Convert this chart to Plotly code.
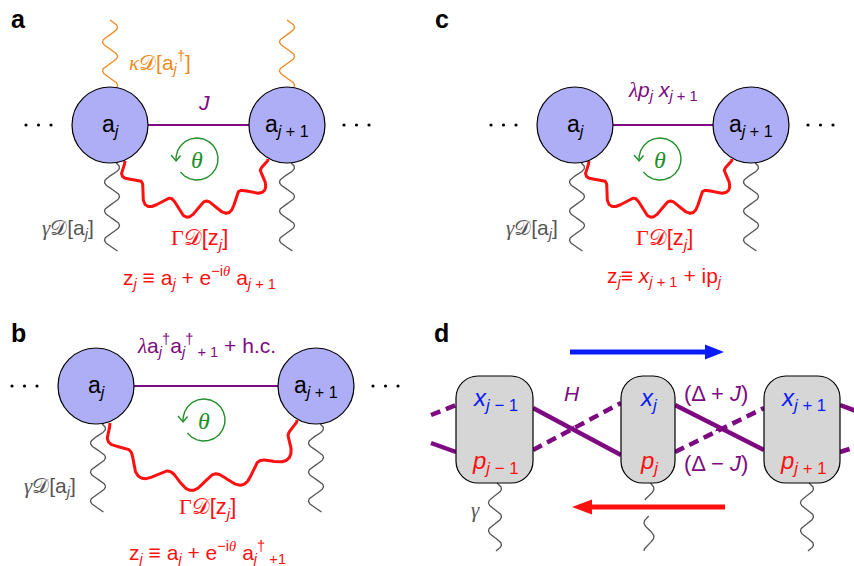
import numpy as np
import plotly.graph_objects as go

W, H = 854, 566

# ---- colours -------------------------------------------------------------
PURPLE = "#7d0a80"
ORANGE = "#ee8a22"
GREEN = "#22902a"
RED = "#ff1010"
BLUE = "#0a1cff"
GRAY = "#555555"
NODE_FILL = "#aeaef7"
BOX_FILL = "#d6d6d6"

SANS = "Liberation Sans, Arial, sans-serif"
SERIF_I = 'font-family:Liberation Serif;font-style:italic'
SERIF = 'font-family:Liberation Serif'
CAL_D = "𝒟"


def sv(t):
    return f'<span style="{SERIF_I}">{t}</span>'


def sr(t):
    return f'<span style="{SERIF}">{t}</span>'


# ---- text content ----------------------------------------------------------
panel_letters = ["a", "b", "c", "d"]
node_left = "a<sub><i>j</i></sub>"
node_right = "a<sub><i>j</i> + 1</sub>"
coupling_a = "<i>J</i>"
coupling_b = (sv("λ") + "a<sub><i>j</i></sub><sup>†</sup>a<sub><i>j</i></sub><sup>†</sup>"
              "<sub> + 1</sub> + h.c.")
coupling_c = sv("λ") + "<i>p</i><sub><i>j</i></sub> <i>x</i><sub><i>j</i> + 1</sub>"
gain_a = sv("κ") + CAL_D + "[a<sub><i>j</i></sub><sup>†</sup>]"
loss_local = sv("γ") + CAL_D + "[a<sub><i>j</i></sub>]"
loss_nonlocal = sr("Γ") + CAL_D + "[z<sub><i>j</i></sub>]"
zdef_a = "z<sub><i>j</i></sub> ≡ a<sub><i>j</i></sub> + e<sup>−i" + sv("θ") + "</sup> a<sub><i>j</i> + 1</sub>"
zdef_b = ("z<sub><i>j</i></sub> ≡ a<sub><i>j</i></sub> + e<sup>−i" + sv("θ") +
          "</sup> a<sub><i>j</i></sub><sup>†</sup><sub> +1</sub>")
zdef_c = "z<sub><i>j</i></sub>≡ <i>x</i><sub><i>j</i> + 1</sub> + ip<sub><i>j</i></sub>"
site_x = ["<i>x</i><sub><i>j</i> − 1</sub>", "<i>x</i><sub><i>j</i></sub>", "<i>x</i><sub><i>j</i> + 1</sub>"]
site_p = ["<i>p</i><sub><i>j</i> − 1</sub>", "<i>p</i><sub><i>j</i></sub>", "<i>p</i><sub><i>j</i> + 1</sub>"]
hamil_label = "<i>H</i>"
plus_label = "(Δ + <i>J</i>)"
minus_label = "(Δ − <i>J</i>)"

fig = go.Figure()


def ann(x, y, text, size=21, color="black", xanchor="center", bold=False):
    if bold:
        text = f"<b>{text}</b>"
    fig.add_annotation(x=x, y=y, text=text, showarrow=False, xanchor=xanchor,
                       yanchor="middle", font=dict(family=SANS, size=size, color=color))


def line(xs, ys, color, width, dash=None):
    fig.add_trace(go.Scatter(x=xs, y=ys, mode="lines", hoverinfo="skip",
                             line=dict(color=color, width=width, dash=dash)))


def wavy_vertical(x0, y0, y1, color, amp=7.5, period=29.0, phase=0.0, width=1.3):
    y = np.linspace(y0, y1, 240)
    x = x0 + amp * np.sin(2 * np.pi * (y - y0) / period + phase)
    line(x, y, color, width)


def wavy_bezier(p0, p1, p2, p3, color, amp=8.0, waves=5.0, width=3.0):
    t = np.linspace(0, 1, 600)[:, None]
    P0, P1, P2, P3 = (np.array(p, float) for p in (p0, p1, p2, p3))
    B = (1 - t) ** 3 * P0 + 3 * (1 - t) ** 2 * t * P1 + 3 * (1 - t) * t ** 2 * P2 + t ** 3 * P3
    dB = 3 * (1 - t) ** 2 * (P1 - P0) + 6 * (1 - t) * t * (P2 - P1) + 3 * t ** 2 * (P3 - P2)
    nrm = np.column_stack([-dB[:, 1], dB[:, 0]]) / np.linalg.norm(dB, axis=1)[:, None]
    seg = np.r_[0, np.cumsum(np.linalg.norm(np.diff(B, axis=0), axis=1))]
    s = seg / seg[-1]
    taper = np.clip(np.minimum(s, 1 - s) / 0.08, 0, 1)
    off = amp * np.sin(2 * np.pi * waves * s) * taper
    pts = B + nrm * off[:, None]
    line(pts[:, 0], pts[:, 1], color, width)


def node(cx, cy, r=38):
    fig.add_shape(type="circle", x0=cx - r, x1=cx + r, y0=cy - r, y1=cy + r,
                  fillcolor=NODE_FILL, line=dict(color="black", width=1.2), layer="above")


def dots(x0, y):
    fig.add_trace(go.Scatter(x=[x0, x0 + 12.5, x0 + 25], y=[y, y, y], mode="markers",
                             hoverinfo="skip", marker=dict(color="black", size=3.2)))


def phase_loop(cx, cy, r=21):
    phi = np.radians(np.linspace(142, -184, 200))
    line(cx + r * np.cos(phi), cy + r * np.sin(phi), GREEN, 1.4)
    tipx, tipy = cx + r * np.cos(phi[-1]), cy + r * np.sin(phi[-1])
    # open arrow head pointing down
    line([tipx - 5, tipx, tipx + 4.5], [tipy - 5.5, tipy + 0.5, tipy - 5], GREEN, 1.4)
    ann(cx, cy + 1, sv("θ"), size=24, color=GREEN)


def pair_panel(xl, xr, yc, label_top, label_top_y, red_ctrl, zdef, z_y, g_y, loss_xy):
    line([xl + 38, xr - 38], [yc, yc], PURPLE, 2.2)
    node(xl, yc)
    node(xr, yc)
    ann(xl, yc, node_left, size=23)
    ann(xr, yc, node_right, size=23)
    dots(xl - 84, yc)
    dots(xr + 57, yc)
    ann((xl + xr) / 2 + (5 if label_top == coupling_a else 0), label_top_y, label_top, size=21, color=PURPLE)
    wavy_vertical(xl + 2, yc + 38, yc + 126, GRAY, phase=0.6)
    wavy_vertical(xr, yc + 38, yc + 126, GRAY, phase=0.6)
    ann(loss_xy[0], loss_xy[1], loss_local, size=21, color=GRAY)
    (a0, a1, a2, a3) = red_ctrl
    wavy_bezier(a0, a1, a2, a3, RED)
    ann((xl + xr) / 2 + 1, g_y, loss_nonlocal, size=22, color=RED)
    ann((xl + xr) / 2 + 1, z_y, zdef, size=21, color=RED)


# ---- panel a ---------------------------------------------------------------
pair_panel(110, 287, 125, coupling_a, 102,
           ((125, 161), (128, 226), (266, 226), (268, 159)),
           zdef_a, 277, 239, (68, 229))
phase_loop(197, 159)
wavy_vertical(110, 20, 87, ORANGE, phase=0.0)
wavy_vertical(287, 20, 87, ORANGE, phase=0.0)
ann(160, 62, gain_a, size=21, color=ORANGE)

# ---- panel c ---------------------------------------------------------------
pair_panel(575, 751, 125, coupling_c, 91,
           ((589, 161), (592, 226), (730, 226), (732, 159)),
           zdef_c, 277, 239, (532, 229))
phase_loop(660, 159)

# ---- panel b ---------------------------------------------------------------
pair_panel(96, 316, 386, coupling_b, 345,
           ((110, 423), (115, 506), (293, 500), (297, 420)),
           zdef_b, 552, 508, (50, 487))
phase_loop(204, 420)

# ---- panel d ---------------------------------------------------------------
boxes = [(456, 533), (621, 675), (764, 840)]
by0, by1 = 376, 483
# couplings between neighbouring quadratures
line([533, 621], [408, 455], PURPLE, 4.5)
line([533, 621], [450, 403], PURPLE, 4.5, dash="10px,6px")
line([675, 764], [405, 450], PURPLE, 4.5)
line([675, 764], [452, 408], PURPLE, 4.5, dash="10px,6px")
line([431, 456], [415, 405], PURPLE, 4.5, dash="10px,6px")
line([431, 456], [443, 452], PURPLE, 4.5)
line([840, 856], [405, 411], PURPLE, 4.5)
line([840, 856], [452, 447], PURPLE, 4.5, dash="10px,6px")
fig.add_trace(go.Scatter(x=[573, 718], y=[429, 429], mode="markers", hoverinfo="skip",
                         marker=dict(symbol="triangle-right", size=6, color=PURPLE, angle=28)))


def rrect(x0, y0, x1, y1, r):
    k = 0.552 * r
    return (f"M{x0 + r},{y0} L{x1 - r},{y0} C{x1 - r + k},{y0} {x1},{y0 + r - k} {x1},{y0 + r} "
            f"L{x1},{y1 - r} C{x1},{y1 - r + k} {x1 - r + k},{y1} {x1 - r},{y1} "
            f"L{x0 + r},{y1} C{x0 + r - k},{y1} {x0},{y1 - r + k} {x0},{y1 - r} "
            f"L{x0},{y0 + r} C{x0},{y0 + r - k} {x0 + r - k},{y0} {x0 + r},{y0} Z")


for (x0, x1), xl, pl in zip(boxes, site_x, site_p):
    fig.add_shape(type="path", path=rrect(x0, by0, x1, by1, 22), fillcolor=BOX_FILL,
                  line=dict(color="black", width=1.2), layer="above")
    cx = (x0 + x1) / 2
    ann(cx + 1, 399, xl, size=24, color=BLUE)
    ann(cx + 1, 462, pl, size=24, color=RED)

ann(572, 393, hamil_label, size=21, color=PURPLE)
ann(716, 393, plus_label, size=22, color=PURPLE)
ann(716, 463, minus_label, size=22, color=PURPLE)

wavy_vertical(495, 483, 551, GRAY, amp=6.5, period=28, phase=0.3)
wavy_vertical(649, 483, 500, GRAY, amp=5, period=28, phase=0.3)
wavy_vertical(649, 516, 551, GRAY, amp=5, period=28, phase=3.2)
wavy_vertical(807, 483, 551, GRAY, amp=6.5, period=28, phase=0.3)
ann(475, 510, sv("γ"), size=21, color=GRAY)

# chirality arrows
line([570, 708], [352, 352], BLUE, 5)
fig.add_shape(type="path", path="M705,344.5 L724,352 L705,359.5 Z", fillcolor=BLUE,
              line=dict(width=0), layer="above")
line([725, 590], [507, 507], RED, 5)
fig.add_shape(type="path", path="M592,499.5 L572,507 L592,514.5 Z", fillcolor=RED,
              line=dict(width=0), layer="above")

# ---- panel letters -----------------------------------------------------------
for letter, (x, y) in zip(panel_letters, [(18, 19), (18, 333), (442, 19), (441, 333)]):
    ann(x, y, letter, size=25, bold=True)

fig.update_layout(
    width=W, height=H, margin=dict(l=0, r=0, t=0, b=0),
    paper_bgcolor="white", plot_bgcolor="white", showlegend=False,
    xaxis=dict(range=[0, W], visible=False, fixedrange=True),
    yaxis=dict(range=[H, 0], visible=False, fixedrange=True),
)
fig.write_html("out.html")
